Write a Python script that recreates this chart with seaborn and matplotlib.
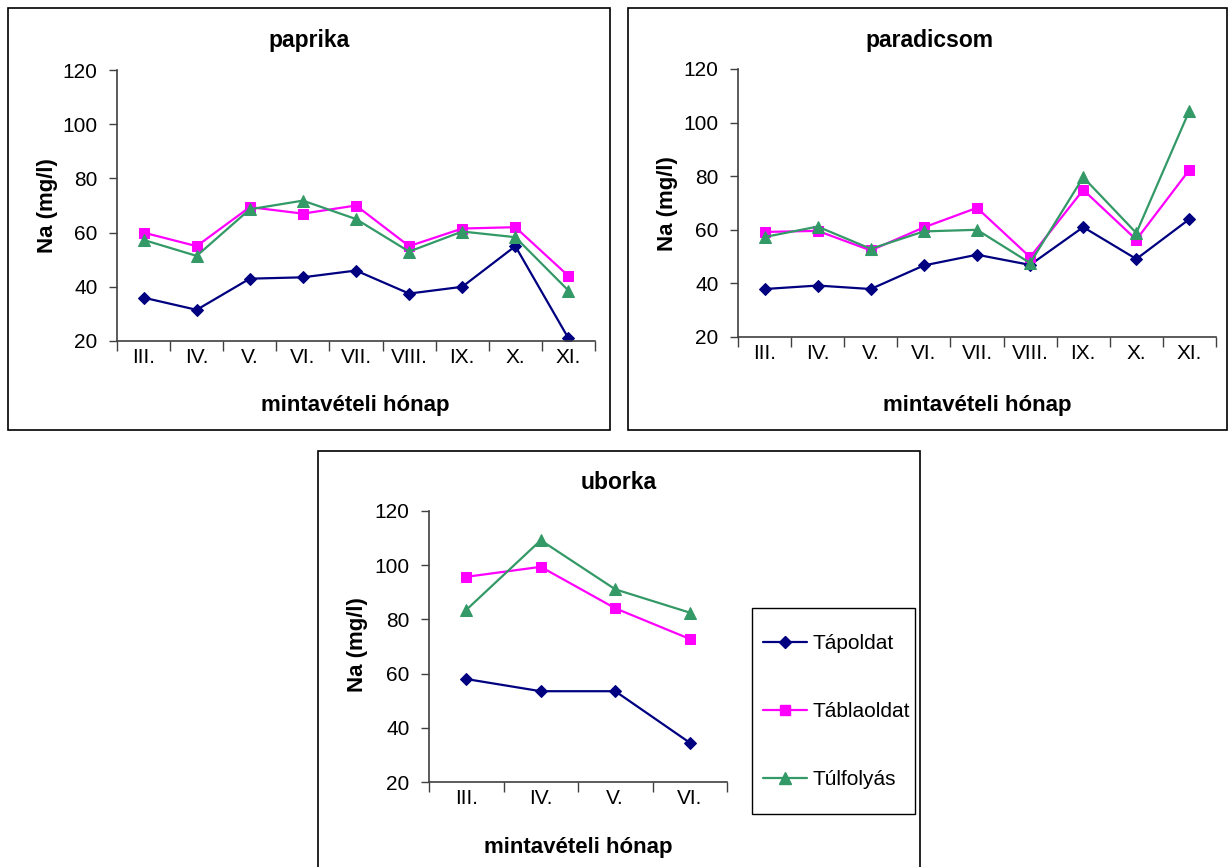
import numpy as np
import matplotlib
matplotlib.use("Agg")
import matplotlib.pyplot as plt
from matplotlib import font_manager as fm
from matplotlib.patches import Rectangle
from matplotlib.lines import Line2D
import seaborn as sns

# ---------------- data ----------------
months_pp = ['III.', 'IV.', 'V.', 'VI.', 'VII.', 'VIII.', 'IX.', 'X.', 'XI.']
months_ub = ['III.', 'IV.', 'V.', 'VI.']

series_names = ['Tápoldat', 'Táblaoldat', 'Túlfolyás']

paprika_tap = [36, 31.5, 43, 43.5, 46, 37.5, 40, 55, 21]
paprika_tabla = [60, 55, 69.4, 67, 70, 55, 61.5, 62, 44]
paprika_tul = [57.3, 51.4, 68.6, 71.8, 65, 53, 60.4, 58.3, 38.6]

paradicsom_tap = [37.9, 39.2, 37.9, 46.7, 50.7, 46.9, 61, 49.1, 64]
paradicsom_tabla = [59.2, 59.6, 52.3, 60.9, 68.2, 49.8, 74.9, 56.3, 82.4]
paradicsom_tul = [57.3, 61.2, 52.9, 59.4, 60, 47.6, 79.6, 58.8, 104.5]

uborka_tap = [58, 53.5, 53.5, 34.5]
uborka_tabla = [95.7, 99.4, 84.1, 72.8]
uborka_tul = [83.5, 109.2, 91.1, 82.5]

y_ticks = [20, 40, 60, 80, 100, 120]

# ---------------- style ----------------
sns.set_theme(style="white")
names = {f.name for f in fm.fontManager.ttflist}
plt.rcParams['font.family'] = ['Liberation Sans', 'DejaVu Sans']
for k in ['text.color', 'axes.labelcolor', 'xtick.color', 'ytick.color']:
    plt.rcParams[k] = 'black'
if 'Liberation Sans Narrow' in names:
    tick_font = ['Liberation Sans Narrow', 'DejaVu Sans']
    tick_size = 16.5
else:
    tick_font = ['Liberation Sans', 'DejaVu Sans']
    tick_size = 15

colors = ['#000080', '#FF00FF', '#339966']
markers = ['D', 's', '^']
msizes = [6.5, 7.5, 8.5]

W, H = 1229, 867
fig = plt.figure(figsize=(W / 100, H / 100), dpi=100)
fig.patch.set_facecolor('white')


def fx(x):
    return x / W


def fy(y):
    return 1 - y / H


def make_axes(x0, y0, x1, y1):
    return fig.add_axes([fx(x0), fy(y1), (x1 - x0) / W, (y1 - y0) / H])


def frame(x0, y0, x1, y1, lw=1.2):
    fig.add_artist(Rectangle((fx(x0), fy(y1)), (x1 - x0) / W, (y1 - y0) / H,
                             transform=fig.transFigure, fill=False,
                             edgecolor='black', linewidth=lw, zorder=10))


def draw_panel(ax, months, data):
    for vals, c, m, ms, name in zip(data, colors, markers, msizes, series_names):
        sns.lineplot(x=months, y=vals, ax=ax, color=c, marker=m, markersize=ms,
                     markeredgecolor=c, linewidth=1.6, sort=False, label=name,
                     legend=False)
    n = len(months)
    ax.set_xlim(-0.5, n - 0.5)
    ax.set_ylim(20, 120)
    ax.set_yticks(y_ticks)
    ax.set_yticklabels([str(v) for v in y_ticks], fontfamily=tick_font, fontsize=tick_size)
    ax.set_xticks(np.arange(n + 1) - 0.5)
    ax.set_xticklabels([''] * (n + 1))
    ax.set_xticks(np.arange(n), minor=True)
    ax.set_xticklabels(months, minor=True, fontfamily=tick_font, fontsize=tick_size)
    ax.tick_params(axis='x', which='major', direction='out', length=7, width=1,
                   color='#404040', bottom=True)
    ax.tick_params(axis='x', which='minor', length=0, pad=5, bottom=True)
    ax.tick_params(axis='y', which='major', direction='out', length=6, width=1,
                   color='#404040', left=True, pad=8)
    for s in ['top', 'right']:
        ax.spines[s].set_visible(False)
    for s in ['left', 'bottom']:
        ax.spines[s].set_color('#404040')
        ax.spines[s].set_linewidth(1.2)
    ax.set_xlabel('')
    ax.set_ylabel('')
    ax.grid(False)
    ax.set_facecolor('white')


# frames
frame(8, 8, 610, 430)
frame(628, 8, 1227, 430)
frame(318, 451, 920, 900)

ax1 = make_axes(117, 70, 595, 341)
draw_panel(ax1, months_pp, [paprika_tap, paprika_tabla, paprika_tul])
ax2 = make_axes(738, 69, 1216, 337)
draw_panel(ax2, months_pp, [paradicsom_tap, paradicsom_tabla, paradicsom_tul])
ax3 = make_axes(429, 511, 727, 782)
draw_panel(ax3, months_ub, [uborka_tap, uborka_tabla, uborka_tul])

title_kw = dict(fontsize=16.5, fontweight='bold', ha='center', va='center', color='black')
label_kw = dict(fontsize=16, fontweight='bold', ha='center', va='center', color='black')

fig.text(fx(309), fy(40), 'paprika', **title_kw)
fig.text(fx(929), fy(40), 'paradicsom', **title_kw)
fig.text(fx(619), fy(482), 'uborka', **title_kw)

fig.text(fx(355), fy(405), 'mintavételi hónap', **label_kw)
fig.text(fx(977), fy(405), 'mintavételi hónap', **label_kw)
fig.text(fx(578), fy(847), 'mintavételi hónap', **label_kw)

fig.text(fx(47), fy(206), 'Na (mg/l)', rotation=90, **label_kw)
fig.text(fx(667), fy(204), 'Na (mg/l)', rotation=90, **label_kw)
fig.text(fx(357), fy(645), 'Na (mg/l)', rotation=90, **label_kw)

# legend (frame drawn separately)
frame(752, 608, 915, 814, lw=1.0)
handles = [Line2D([], [], color=c, marker=m, markersize=ms, markeredgecolor=c, linewidth=1.6)
           for c, m, ms in zip(colors, markers, msizes)]
leg = fig.legend(handles, series_names, loc='upper left',
                 bbox_to_anchor=(fx(763), fy(634)), frameon=False,
                 prop={'family': tick_font, 'size': tick_size},
                 labelspacing=2.35, borderpad=0, handlelength=2.1,
                 handletextpad=0.3, borderaxespad=0)
for t in leg.get_texts():
    t.set_color('black')

fig.savefig('out.png', dpi=100, facecolor='white')
